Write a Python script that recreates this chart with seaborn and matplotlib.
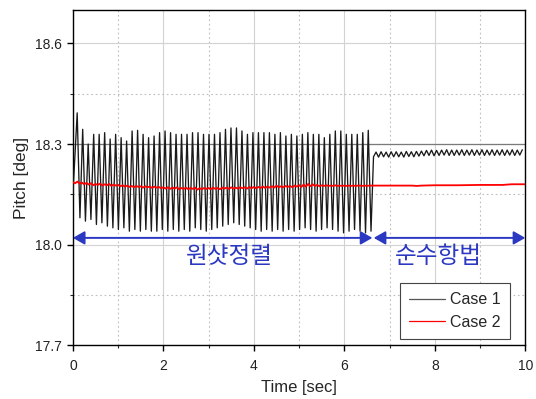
import numpy as np
import pandas as pd
import matplotlib
matplotlib.use("Agg")
import matplotlib.pyplot as plt
from matplotlib.ticker import MultipleLocator
import seaborn as sns

# ------------------------------------------------------------------
# Data
# ------------------------------------------------------------------
# Case 1: one-shot alignment phase (0 - 6.6 s), peaks / troughs per cycle
case1_start_t = 0.0
case1_start_val = 18.15
osc_t0 = 0.095          # time of first peak [s]
osc_period = 0.1214     # oscillation period [s]
case1_peaks = [
    18.393, 18.344, 18.300, 18.329, 18.329, 18.334, 18.315, 18.329, 18.319, 18.309,
    18.339, 18.341, 18.329, 18.319, 18.324, 18.334, 18.339, 18.334, 18.329, 18.329,
    18.329, 18.334, 18.334, 18.329, 18.329, 18.329, 18.334, 18.344, 18.348, 18.348,
    18.339, 18.329, 18.334, 18.334, 18.334, 18.334, 18.329, 18.334, 18.324, 18.329,
    18.324, 18.329, 18.334, 18.329, 18.329, 18.319, 18.329, 18.339, 18.339, 18.329,
    18.329, 18.329, 18.334, 18.341,
]
case1_troughs = [
    18.080, 18.070, 18.075, 18.060, 18.065, 18.055, 18.050, 18.045, 18.050, 18.040,
    18.045, 18.040, 18.045, 18.040, 18.040, 18.045, 18.040, 18.045, 18.040, 18.045,
    18.040, 18.050, 18.045, 18.040, 18.045, 18.050, 18.055, 18.060, 18.065, 18.060,
    18.055, 18.050, 18.045, 18.040, 18.045, 18.040, 18.045, 18.040, 18.045, 18.040,
    18.045, 18.050, 18.045, 18.040, 18.045, 18.050, 18.045, 18.040, 18.035, 18.040,
    18.045, 18.040, 18.035, 18.040,
]

# Case 1: pure navigation phase (6.6 - 10 s)
tail_t0 = 6.645
tail_period = 0.1115
case1_tail_troughs = [
    18.262, 18.261, 18.262, 18.261, 18.262, 18.262, 18.261, 18.263, 18.262, 18.264,
    18.265, 18.266, 18.265, 18.266, 18.267, 18.266, 18.266, 18.267, 18.266, 18.267,
    18.266, 18.267, 18.266, 18.267, 18.266, 18.267, 18.266, 18.267, 18.266, 18.267,
]
case1_tail_peaks = [
    18.276, 18.277, 18.276, 18.277, 18.277, 18.276, 18.278, 18.277, 18.278, 18.279,
    18.281, 18.282, 18.281, 18.282, 18.283, 18.282, 18.282, 18.283, 18.282, 18.283,
    18.282, 18.283, 18.282, 18.283, 18.282, 18.283, 18.282, 18.283, 18.282, 18.283,
]

# Case 2: sampled every 0.05 s up to 6.6 s, then sparse points
case2_dt = 0.05
case2_vals = [
    18.186, 18.183, 18.188, 18.182, 18.185, 18.180, 18.184, 18.179, 18.183, 18.177,
    18.181, 18.178, 18.182, 18.176, 18.180, 18.177, 18.181, 18.175, 18.179, 18.176,
    18.178, 18.174, 18.177, 18.173, 18.176, 18.172, 18.175, 18.171, 18.175, 18.172,
    18.174, 18.170, 18.174, 18.171, 18.173, 18.169, 18.173, 18.170, 18.172, 18.168,
    18.171, 18.167, 18.171, 18.166, 18.170, 18.167, 18.171, 18.165, 18.169, 18.166,
    18.170, 18.165, 18.169, 18.166, 18.170, 18.164, 18.168, 18.165, 18.169, 18.166,
    18.169, 18.165, 18.170, 18.166, 18.169, 18.165, 18.170, 18.167, 18.170, 18.166,
    18.171, 18.167, 18.170, 18.167, 18.171, 18.168, 18.171, 18.167, 18.172, 18.168,
    18.172, 18.168, 18.172, 18.169, 18.173, 18.169, 18.173, 18.170, 18.174, 18.170,
    18.176, 18.171, 18.174, 18.171, 18.175, 18.172, 18.175, 18.171, 18.176, 18.173,
    18.177, 18.172, 18.179, 18.173, 18.181, 18.174, 18.180, 18.175, 18.178, 18.174,
    18.177, 18.175, 18.177, 18.175, 18.176, 18.175, 18.177, 18.175, 18.176, 18.175,
    18.176, 18.175, 18.176, 18.175, 18.176, 18.175, 18.176, 18.176, 18.175, 18.176,
    18.175, 18.176, 18.176,
]
case2_tail_t = [6.65, 7.0, 7.5, 7.6, 7.7, 8.0, 8.5, 9.0, 9.5, 9.7, 10.0]
case2_tail_vals = [18.176, 18.176, 18.176, 18.175, 18.176, 18.177, 18.177,
                   18.178, 18.178, 18.180, 18.180]

phase_labels = ["원샷정렬", "순수항법"]
phase_spans = [(0.0, 6.62), (6.65, 10.0)]
phase_label_x = [3.47, 8.07]

# ------------------------------------------------------------------
# Assemble series
# ------------------------------------------------------------------
t1, v1 = [case1_start_t], [case1_start_val]
for i, (p, q) in enumerate(zip(case1_peaks, case1_troughs)):
    tp = osc_t0 + osc_period * i
    t1 += [tp, tp + osc_period / 2]
    v1 += [p, q]
for k, (q, p) in enumerate(zip(case1_tail_troughs, case1_tail_peaks)):
    tq = tail_t0 + tail_period * k
    t1 += [tq, tq + tail_period / 2]
    v1 += [q, p]
df1 = pd.DataFrame({"time": t1, "pitch": v1})

t2 = list(case2_dt * np.arange(len(case2_vals))) + case2_tail_t
v2 = case2_vals + case2_tail_vals
df2 = pd.DataFrame({"time": t2, "pitch": v2})

# ------------------------------------------------------------------
# Plot
# ------------------------------------------------------------------
sns.set_style("white")
plt.rcParams["font.family"] = ["Liberation Sans", "Noto Sans CJK KR", "DejaVu Sans"]

fig = plt.figure(figsize=(5.36, 3.99), dpi=100)
ax = fig.add_axes([0.136, 0.135, 0.844, 0.84])

ax.set_xlim(0, 10)
ax.set_ylim(17.7, 18.7)
ax.xaxis.set_major_locator(MultipleLocator(2))
ax.xaxis.set_minor_locator(MultipleLocator(1))
ax.yaxis.set_major_locator(MultipleLocator(0.3))
ax.yaxis.set_minor_locator(MultipleLocator(0.15))
ax.set_yticks([17.7, 18.0, 18.3, 18.6])
ax.grid(which="major", color="#d2d2d2", linewidth=0.8, linestyle="-")
ax.grid(which="minor", color="#bdbdbd", linewidth=0.8, linestyle=(0, (1.5, 2.5)))
ax.axhline(18.3, color="#7a7a7a", linewidth=0.9, zorder=1)
ax.set_axisbelow(True)

sns.lineplot(data=df1, x="time", y="pitch", ax=ax, sort=False, estimator=None,
             color="#1a1a1a", linewidth=0.95, label="Case 1", zorder=3)
sns.lineplot(data=df2, x="time", y="pitch", ax=ax, sort=False, estimator=None,
             color="#ff0000", linewidth=1.3, label="Case 2", zorder=4)

blue = "#2b38c2"
for (a, b), tx, txt in zip(phase_spans, phase_label_x, phase_labels):
    ax.annotate("", xy=(a, 18.02), xytext=(b, 18.02),
                arrowprops=dict(arrowstyle="<|-|>,head_length=0.7,head_width=0.4",
                                color=blue, lw=1.4,
                                mutation_scale=10, shrinkA=0, shrinkB=0),
                zorder=5)
    ax.text(tx, 17.963, txt, color=blue, fontsize=17,
            ha="center", va="center",
            family=["Noto Sans CJK KR", "DejaVu Sans"])

ax.set_xlabel("Time [sec]", fontsize=12, labelpad=5)
ax.set_ylabel("Pitch [deg]", fontsize=12.5, labelpad=4)
ax.set_xticks([0, 2, 4, 6, 8, 10])
ax.set_xticklabels(["0", "2", "4", "6", "8", "10"])
ax.tick_params(which="major", direction="out", length=4, width=1, labelsize=10,
               colors="black", labelcolor="#222222", bottom=True, left=True,
               pad=4)
ax.tick_params(axis="x", which="major", pad=6)
ax.tick_params(which="minor", direction="out", length=2.5, width=0.8,
               bottom=True, left=True)
for s in ax.spines.values():
    s.set_color("black")
    s.set_linewidth(1.0)

leg = ax.legend(loc="lower right", bbox_to_anchor=(0.967, 0.018), fontsize=11.5,
                frameon=True, fancybox=False, framealpha=1, edgecolor="#444444",
                handlelength=2.2, handletextpad=0.35, borderpad=0.6,
                labelspacing=0.45, borderaxespad=0)
leg.get_frame().set_linewidth(0.8)
for line in leg.get_lines():
    line.set_linewidth(0.9)
leg.get_lines()[0].set_color("#555555")

fig.savefig("out.png", dpi=100)
